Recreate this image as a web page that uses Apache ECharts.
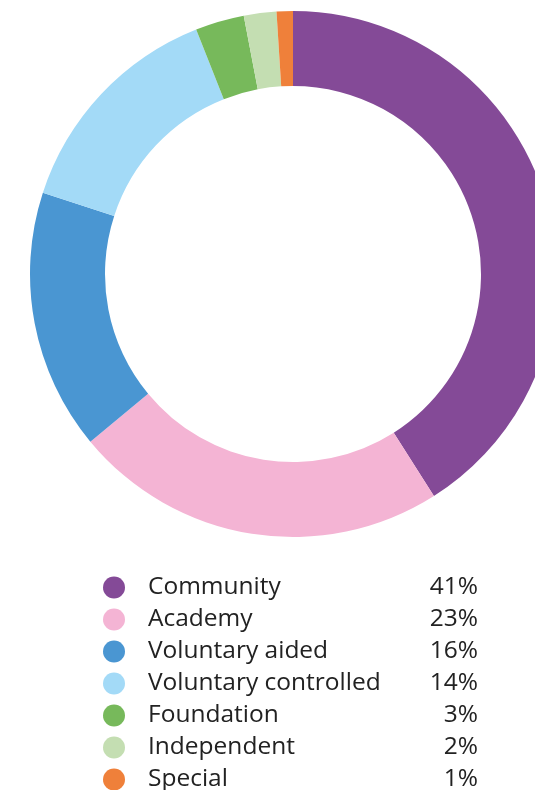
<!DOCTYPE html>
<html>
<head>
<meta charset="utf-8">
<script src="https://cdn.jsdelivr.net/npm/echarts@6/dist/echarts.min.js"></script>
<style>
  html, body { margin: 0; padding: 0; background: #fff; }
  #chart { width: 535px; height: 790px; }
</style>
</head>
<body>
<div id="chart"></div>
<script>
// school types and share of schools (%)
const categories = ['Community', 'Academy', 'Voluntary aided', 'Voluntary controlled', 'Foundation', 'Independent', 'Special'];
const shares = [41, 23, 16, 14, 3, 2, 1];
const colors = ['#844A97', '#F4B4D4', '#4A96D2', '#A3DAF7', '#77B95B', '#C4DEB2', '#EF803A'];

const chart = echarts.init(document.getElementById('chart'));

const pieData = categories.map((name, i) => ({
  name: name,
  value: shares[i],
  itemStyle: { color: colors[i] }
}));

chart.setOption({
  animation: false,
  textStyle: { fontFamily: 'Open Sans' },
  legend: {
    orient: 'vertical',
    left: 103,
    top: 575,
    height: 240,
    padding: 0,
    icon: 'circle',
    itemWidth: 22,
    itemHeight: 22,
    itemGap: 7,
    selectedMode: false,
    data: categories,
    formatter: name => `{s|}{n|${name}}{p|${shares[categories.indexOf(name)]}%}`,
    textStyle: {
      fontSize: 24.5,
      lineHeight: 22,
      rich: {
        s: { width: 18, lineHeight: 22 },
        n: { width: 268, fontSize: 24.5, color: '#222', lineHeight: 22 },
        p: { width: 62, align: 'right', fontSize: 24.5, color: '#222', lineHeight: 22 }
      }
    }
  },
  series: [{
    type: 'pie',
    center: [293, 274],
    radius: [188, 263],
    startAngle: 90,
    clockwise: true,
    label: { show: false },
    labelLine: { show: false },
    emphasis: { disabled: true },
    data: pieData
  }]
});
</script>
</body>
</html>
